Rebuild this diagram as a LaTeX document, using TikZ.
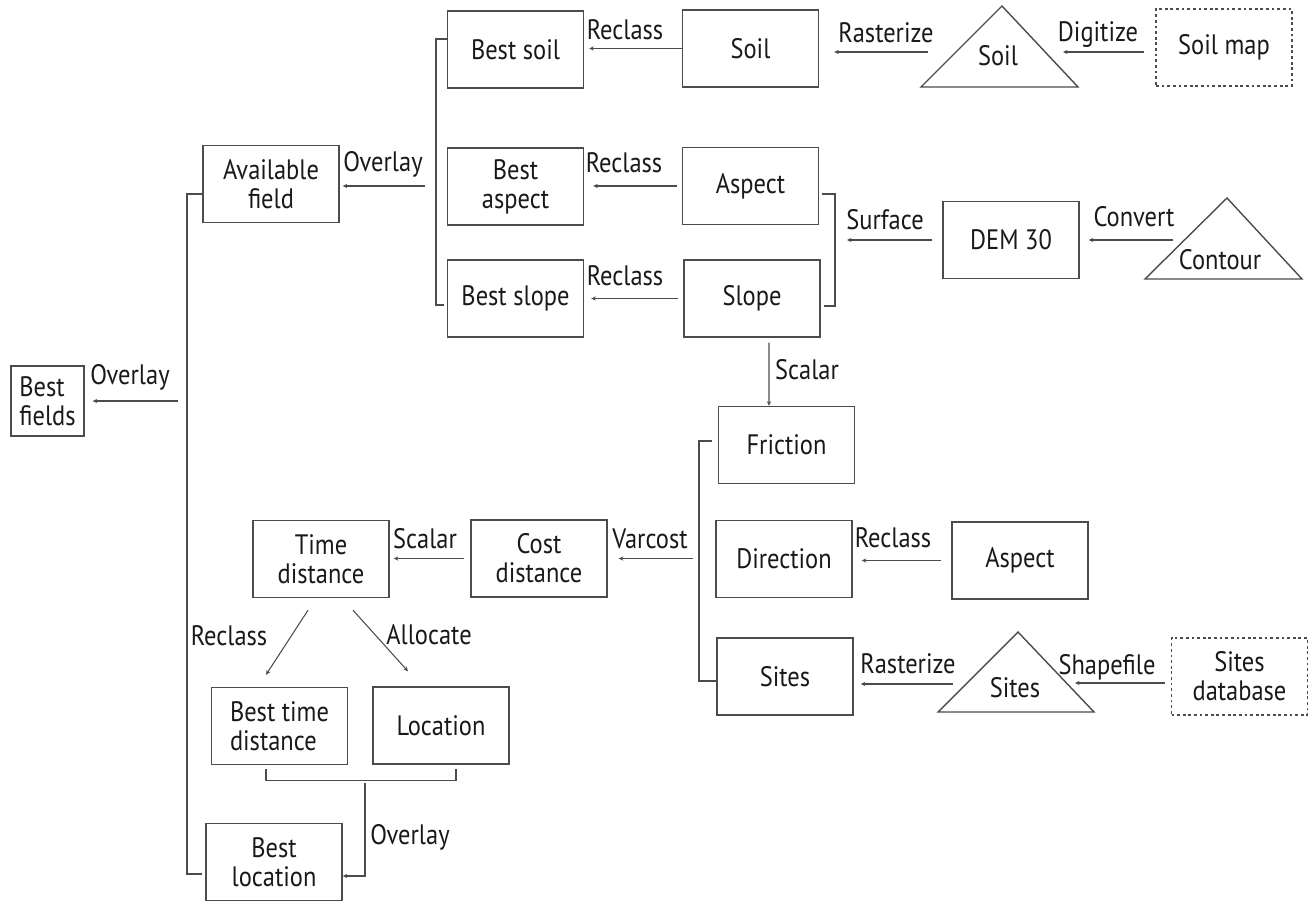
\documentclass[tikz,border=0pt]{standalone}
\usepackage{fontspec}
\setmainfont{PT Sans}[FakeStretch=0.87]
\usetikzlibrary{arrows.meta}
\newcommand{\flowfont}{\fontsize{16}{16.5}\selectfont}

\begin{document}
\begin{tikzpicture}[x=0.2mm,y=-0.2mm,
    every node/.style={font=\flowfont, text=black!90},
    box/.style={draw=black!70, line width=0.8pt, minimum width=27.2mm,
        minimum height=15.4mm, align=center, inner sep=1pt},
    src/.style={box, dash pattern=on 1.6pt off 1.6pt},
    tri/.style={draw=black!70, line width=0.8pt},
    lbl/.style={inner sep=0pt, anchor=base},
    link/.style={draw=black!70, line width=0.6pt},
    arr/.style={link, -{Stealth[length=2.6pt,width=2.4pt]}}]

\useasboundingbox (0,0) rectangle (1313,902);

% land suitability
\node[box] (bestsoil) at (515.5,49.5) {Best soil};
\node[box] (soil) at (750.5,48.5) {Soil};
\draw[tri] (921,87) -- (1002,6) -- (1078,87) -- cycle;
\node[lbl] (soiltri) at (998,66) {Soil};
\node[src] (soilmap) at (1224,47.5) {Soil map};
\node[box] (bestaspect) at (515.5,186.5) {Best\\aspect};
\node[box] (aspect) at (750.5,186) {Aspect};
\node[box] (bestslope) at (515.5,298.5) {Best slope};
\node[box] (slope) at (752,298.5) {Slope};
\node[box] (dem) at (1011,240) {DEM 30};
\draw[tri] (1145,279) -- (1227,198) -- (1302,279) -- cycle;
\node[lbl] (contour) at (1220,270) {Contour};
\node[box] (avail) at (271,184) {Available\\field};
\node[box, minimum width=14.6mm, minimum height=14mm, align=left] (bestfields) at (47.5,401) {Best\\fields};

% travel cost
\node[box] (friction) at (786.5,445) {Friction};
\node[box] (direction) at (784,559) {Direction};
\node[box] (aspect2) at (1020,560.5) {Aspect};
\node[box] (sites) at (785,676.5) {Sites};
\draw[tri] (938,712) -- (1018,632) -- (1094,712) -- cycle;
\node[lbl] (sitestri) at (1015,697) {Sites};
\node[src] (sitesdb) at (1239.5,676.5) {Sites\\database};
\node[box] (timedist) at (321,559) {Time\\distance};
\node[box] (costdist) at (539,558.5) {Cost\\distance};
\node[box, align=left] (besttime) at (279.5,726) {Best time\\distance};
\node[box] (location) at (441,725.5) {Location};
\node[box] (bestloc) at (274,862) {Best\\location};

% free ends
\coordinate (soilL) at (928,52);
\coordinate (soilR) at (1063,52);
\coordinate (contL) at (1173,240);
\coordinate (brL) at (436,186);
\coordinate (brR) at (835,250);
\coordinate (brM) at (699,560);
\coordinate (spine) at (187,400);
\coordinate (sitesL) at (953,684);
\coordinate (sitesR) at (1075,683);
\coordinate (join) at (365,783);

% connectors
\draw[arr, shorten >=1mm] (soil.west) -- (soil.west -| bestsoil.east);
\draw[arr, shorten >=3mm] (soilL) -- (soilL -| soil.east);
\draw[arr, shorten <=2.2mm] (soilR -| soilmap.west) -- (soilR);
\draw[arr, shorten <=1mm, shorten >=1.8mm] (aspect.west) -- (aspect.west -| bestaspect.east);
\draw[arr, shorten <=1mm, shorten >=1.4mm] (slope.west) -- (slope.west -| bestslope.east);
\draw[link] ([xshift=0.6mm,yshift=-1.6mm]aspect.east) -| (brR) |- ([xshift=0.6mm,yshift=-1.5mm]slope.east);
\draw[arr, shorten <=2mm, shorten >=2.4mm] (dem.west) -- (dem.west -| brR);
\draw[arr, shorten >=1.8mm] (contL) -- (contL -| dem.east);
\draw[link] ([yshift=2.1mm]bestsoil.west) -| (brL) |- ([xshift=-0.6mm,yshift=-1.3mm]bestslope.west);
\draw[arr, shorten <=2.2mm, shorten >=0.6mm] (brL) -- (brL -| avail.east);
\draw[link] ([yshift=-2mm]avail.west) -| (spine) |- ([xshift=-0.6mm,yshift=-2.4mm]bestloc.west);
\draw[arr, shorten <=1.8mm, shorten >=1.6mm] (spine |- bestfields.east) -- (bestfields.east);
\draw[arr, shorten <=1mm] ([xshift=3.4mm]slope.south) -- ([xshift=-3.5mm]friction.north);
\draw[link] ([xshift=-1.2mm,yshift=0.8mm]friction.west) -| (brM) |- ([yshift=-0.9mm]sites.west);
\draw[arr, shorten <=1.2mm, shorten >=2.2mm] (brM |- costdist.east) -- (costdist.east);
\draw[arr, shorten <=2mm, shorten >=1.8mm] (aspect2.west) -- (aspect2.west -| direction.east);
\draw[arr, shorten >=1.4mm] (sitesL) -- (sitesL -| sites.east);
\draw[arr, shorten <=1.2mm] (sitesR -| sitesdb.west) -- (sitesR);
\draw[arr, shorten <=1.2mm, shorten >=0.8mm] (costdist.west) -- (costdist.west -| timedist.east);
\draw[arr] ([xshift=-2.6mm,yshift=-2.4mm]timedist.south) -- ([xshift=-2.7mm,yshift=2.4mm]besttime.north);
\draw[arr] ([xshift=6.4mm,yshift=-2.4mm]timedist.south) -- ([xshift=-6.6mm,yshift=3mm]location.north);
\draw[link] ([xshift=-2.7mm,yshift=-0.8mm]besttime.south) -- ++(0,11) -| ([xshift=3mm,yshift=-0.8mm]location.south);
\draw[arr] (join) |- ([yshift=-2.8mm]bestloc.east);

% operations
\node[lbl] (rc1) at (625,40) {Reclass};
\node[lbl] (rc2) at (624,173) {Reclass};
\node[lbl] (rc3) at (625,286) {Reclass};
\node[lbl] (rz1) at (886,43) {Rasterize};
\node[lbl] (dg) at (1098,42) {Digitize};
\node[lbl] (sf) at (885,230) {Surface};
\node[lbl] (cv) at (1134,227) {Convert};
\node[lbl] (ov1) at (383,172) {Overlay};
\node[lbl] (ov2) at (130,385) {Overlay};
\node[lbl] (sc1) at (807,380) {Scalar};
\node[lbl] (vc) at (650,548) {Varcost};
\node[lbl] (sc2) at (425,548) {Scalar};
\node[lbl] (rc4) at (229,645) {Reclass};
\node[lbl] (al) at (429,644) {Allocate};
\node[lbl] (ov3) at (410,844) {Overlay};
\node[lbl] (rc5) at (893,547) {Reclass};
\node[lbl] (rz2) at (908,673) {Rasterize};
\node[lbl] (shp) at (1107,674) {Shapefile};
\end{tikzpicture}
\end{document}
